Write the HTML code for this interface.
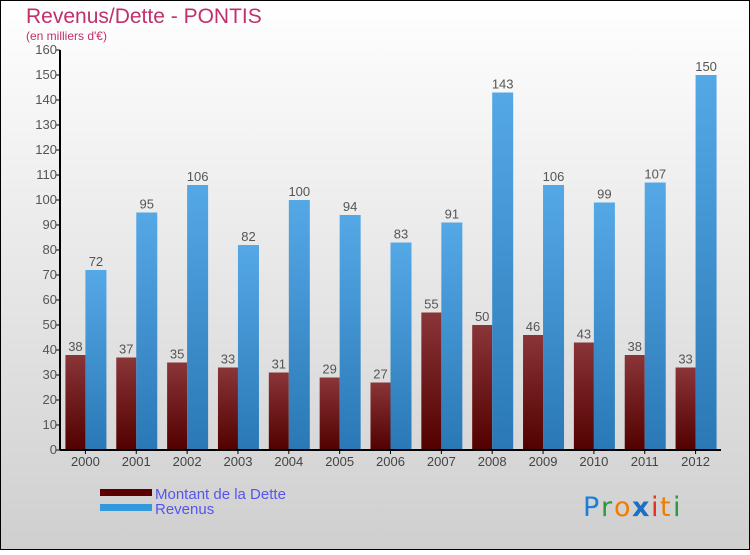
<!DOCTYPE html>
<html><head><meta charset="utf-8"><style>
body{margin:0;padding:0}
#c{position:relative;width:750px;height:550px;font-family:"Liberation Sans",sans-serif}
</style></head><body>
<div id="c">
<svg id="s" width="750" height="550" xmlns="http://www.w3.org/2000/svg" font-family="'Liberation Sans',sans-serif">
<defs>
<linearGradient id="bg" x1="0" y1="0" x2="0" y2="1"><stop offset="0" stop-color="#ffffff"/><stop offset="1" stop-color="#cfcfcf"/></linearGradient>
<linearGradient id="gd" x1="0" y1="0" x2="0" y2="1"><stop offset="0" stop-color="#8a3538"/><stop offset="1" stop-color="#520000"/></linearGradient>
<linearGradient id="gr" x1="0" y1="0" x2="0" y2="1"><stop offset="0" stop-color="#55a8e6"/><stop offset="1" stop-color="#2a78b6"/></linearGradient>
</defs>
<rect x="0.5" y="0.5" width="749" height="549" fill="url(#bg)" stroke="#000"/>
<text x="26" y="23" font-size="21" fill="#c0306a">Revenus/Dette - PONTIS</text>
<text x="26" y="40" font-size="12" fill="#c0306a">(en milliers d'€)</text>
<g id="grid"></g><g id="bars"></g><g id="axes"></g>
<rect x="100" y="489" width="52" height="7" fill="#5a0000"/>
<rect x="100" y="504" width="52" height="7" fill="#3399dd"/>
<text x="155" y="499" font-size="15" fill="#5555ee">Montant de la Dette</text>
<text x="155" y="514" font-size="15" fill="#5555ee">Revenus</text>
<g font-size="27" font-family="'DejaVu Sans',sans-serif">
<text x="583" y="516" fill="#1a7fd6">P</text><text x="601" y="516" fill="#2a9a3a">r</text><text x="614" y="516" fill="#f07d00">o</text><text x="632" y="516" fill="#1a6fc6" font-weight="bold">x</text><text x="651" y="516" fill="#e53020">i</text><text x="660" y="516" fill="#f07d00">t</text><text x="673" y="516" fill="#2a9a3a">i</text>
</g>
</svg>
</div>
<script>
const years=["2000","2001","2002","2003","2004","2005","2006","2007","2008","2009","2010","2011","2012"];
const dette=[38,37,35,33,31,29,27,55,50,46,43,38,33];
const revenus=[72,95,106,82,100,94,83,91,143,106,99,107,150];
const yTicks=[0,10,20,30,40,50,60,70,80,90,100,110,120,130,140,150,160];
const NS="http://www.w3.org/2000/svg";
const x0=60,x1=721,y0=450,y1=50,ymax=160;
const bw=(x1-x0)/years.length;
function y(v){return y0-(v/ymax)*(y0-y1);}
function cx(i){return x0+bw*(i+0.5);}
function mk(tag,attrs,parent){const e=document.createElementNS(NS,tag);for(const k in attrs)e.setAttribute(k,attrs[k]);parent.appendChild(e);return e;}
const g=document.getElementById('bars'),ax=document.getElementById('axes');
years.forEach((yr,i)=>{
  const c=cx(i);
  const b1=mk('rect',{x:c-20,y:y(dette[i]),width:20,height:y0-y(dette[i]),fill:'url(#gd)'},g);
  
  
  const b2=mk('rect',{x:c,y:y(revenus[i]),width:21,height:y0-y(revenus[i]),fill:'url(#gr)'},g);
  
  
  const t1=mk('text',{x:c-10,y:y(dette[i])-4,'font-size':13,fill:'#555','text-anchor':'middle'},g);t1.textContent=dette[i];
  
  
  const t2=mk('text',{x:c+10.5,y:y(revenus[i])-4,'font-size':13,fill:'#555','text-anchor':'middle'},g);t2.textContent=revenus[i];
  
  
  mk('line',{x1:c,x2:c,y1:y0,y2:y0+4,stroke:'#000'},ax);
  const tl=mk('text',{x:c,y:y0+16,'font-size':13,fill:'#444','text-anchor':'middle'},ax);tl.textContent=yr;
  
  
});
yTicks.forEach(v=>{
  mk('line',{x1:x0-4,x2:x0,y1:y(v),y2:y(v),stroke:'#000'},ax);
  const t=mk('text',{x:x0-3,y:y(v)+4,'font-size':13,fill:'#555','text-anchor':'end'},ax);t.textContent=v;
  
  
});
const ya=mk('line',{x1:x0,x2:x0,y1:y1,y2:y0,stroke:'#000','stroke-width':2},ax);


const xa=mk('line',{x1:x0,x2:x1,y1:y0,y2:y0,stroke:'#000','stroke-width':2},ax);


</script>
</body></html>
